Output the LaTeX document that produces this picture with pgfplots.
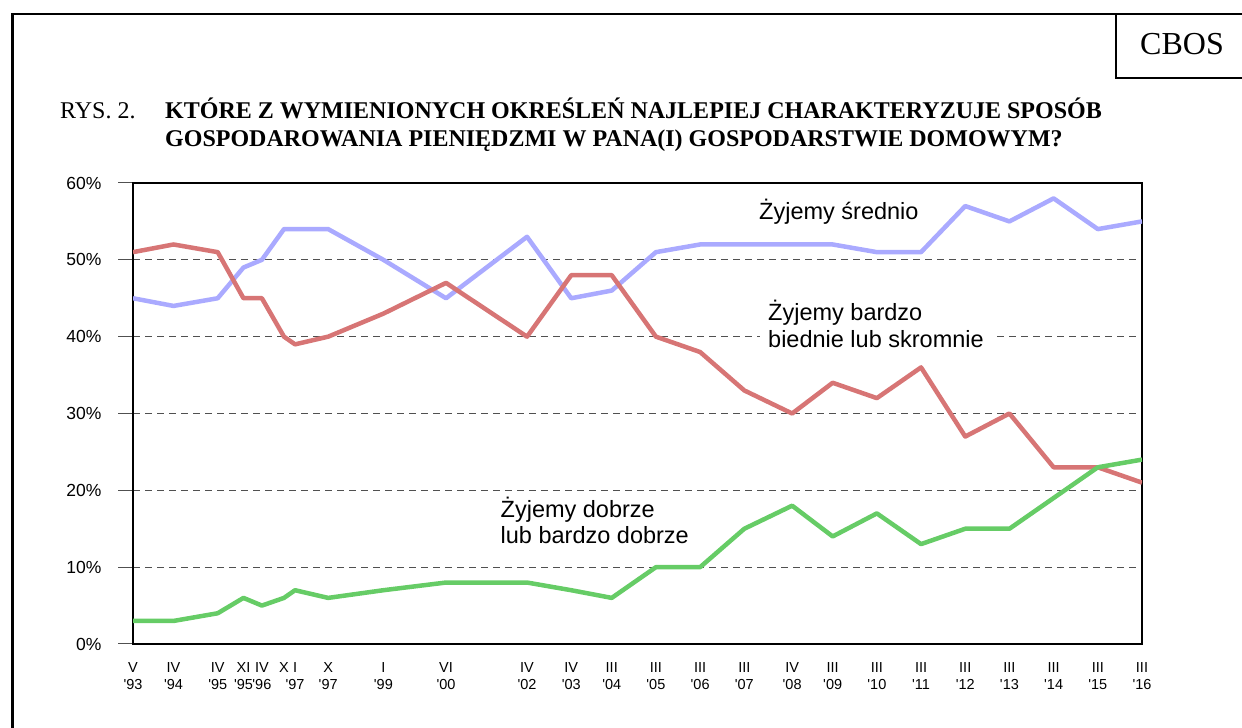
\documentclass[border=0pt]{standalone}
\usepackage{fontspec}
\usepackage{pgfplots}
\pgfplotsset{compat=1.18}
\usepackage{pgfplotstable}
\setmainfont{Liberation Serif}
\newfontfamily\arial{Liberation Sans}
\definecolor{cblue}{RGB}{170,170,255}
\definecolor{cred}{RGB}{215,117,117}
\definecolor{cgreen}{RGB}{102,204,102}
\definecolor{gridc}{RGB}{80,80,80}
\newcommand{\q}{\textquotesingle}

% x = date as decimal year; b = srednio, r = bardzo biednie lub skromnie, g = dobrze lub bardzo dobrze
\pgfplotstableread{
x        b  r  g
1993.333 45 51 3
1994.250 44 52 3
1995.250 45 51 4
1995.833 49 45 6
1996.250 50 45 5
1996.750 54 40 6
1997.000 54 39 7
1997.750 54 40 6
1999.000 50 43 7
2000.417 45 47 8
2002.250 53 40 8
2003.250 45 48 7
2004.167 46 48 6
2005.167 51 40 10
2006.167 52 38 10
2007.167 52 33 15
2008.250 52 30 18
2009.167 52 34 14
2010.167 51 32 17
2011.167 51 36 13
2012.167 57 27 15
2013.167 55 30 15
2014.167 58 23 19
2015.167 54 23 23
2016.167 55 21 24
}\data

\begin{document}
\begin{tikzpicture}[x=1pt,y=1pt]
\useasboundingbox (0,0) rectangle (1242,728);
\draw[line width=2.3pt] (12.5,-5) -- (12.5,713.7) -- (1250,713.7);
\draw[line width=2.3pt] (1116,713.7) -- (1116,649.7) -- (1250,649.7);
\node[anchor=base, inner sep=0pt, font=\fontsize{32}{38}\selectfont] at (1182,673) {CBOS};
\node[anchor=base west, inner sep=0pt, font=\fontsize{24}{28}\selectfont] at (60,609) {RYS. 2.};
\node[anchor=base west, inner sep=0pt, font=\fontsize{24}{28}\selectfont\bfseries] at (165,609) {KTÓRE Z WYMIENIONYCH OKREŚLEŃ NAJLEPIEJ CHARAKTERYZUJE SPOSÓB};
\node[anchor=base west, inner sep=0pt, font=\fontsize{24}{28}\selectfont\bfseries] at (165,581) {GOSPODAROWANIA PIENIĘDZMI W PANA(I) GOSPODARSTWIE DOMOWYM?};

\begin{axis}[
  at={(133pt,84pt)}, anchor=south west, scale only axis,
  width=1009pt, height=461pt,
  xmin=1993.333, xmax=2016.167, ymin=0, ymax=60,
  ytick={0,10,...,60},
  yticklabel={\pgfmathprintnumber{\tick}\%},
  ytick pos=left,
  xtick=data,
  xticklabels={{V\\\q93},{IV\\\q94},{IV\\\q95},{XI\\\q95},{IV\\\q96},{X},{I\\\q97},{X\\\q97},{I\\\q99},{VI\\\q00},{IV\\\q02},{IV\\\q03},{III\\\q04},{III\\\q05},{III\\\q06},{III\\\q07},{IV\\\q08},{III\\\q09},{III\\\q10},{III\\\q11},{III\\\q12},{III\\\q13},{III\\\q14},{III\\\q15},{III\\\q16}},
  tick align=outside, major tick length=15pt,
  xtick style={draw=none},
  ytick style={draw=gridc, line width=1pt},
  ymajorgrids,
  major grid style={draw=gridc, line width=1pt, dash pattern=on 7pt off 5pt},
  axis line style={line width=1.3pt},
  /pgf/number format/assume math mode=true,
  yticklabel style={font=\arial\fontsize{17.5}{20}\selectfont, xshift=-13pt},
  xticklabel style={font=\arial\fontsize{14.5}{17}\selectfont, align=center, anchor=north},
]
\addplot[cblue, line width=4.5pt, line join=round] table[x=x, y=b] {\data};
\addplot[cred, line width=4.5pt, line join=round] table[x=x, y=r] {\data};
\addplot[cgreen, line width=4.5pt, line join=round] table[x=x, y=g] {\data};
\end{axis}

\begin{scope}[font=\arial\fontsize{23.5}{28}\selectfont]
\node[anchor=base west, inner sep=0pt] at (759,508) {Żyjemy średnio};
\node[anchor=base west, inner sep=0pt] at (768,407) {Żyjemy bardzo};
\node[anchor=base west, inner xsep=8pt, inner ysep=0pt, fill=white] at (760,380) {biednie lub skromnie};
\node[anchor=base west, inner sep=0pt] at (500.5,210) {Żyjemy dobrze};
\node[anchor=base west, inner sep=0pt] at (500.5,184) {lub bardzo dobrze};
\end{scope}
\end{tikzpicture}
\end{document}
